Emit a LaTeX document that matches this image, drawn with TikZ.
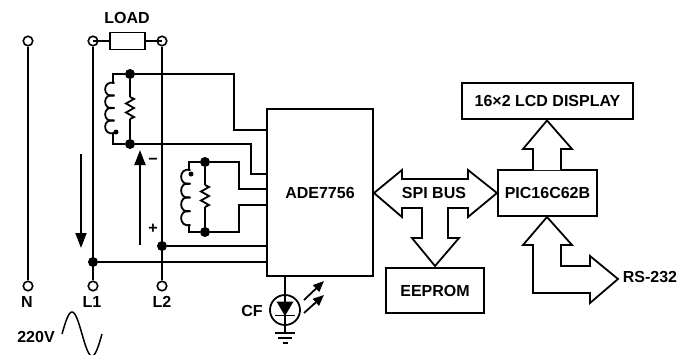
\documentclass[tikz,border=0pt]{standalone}
\usepackage{fontspec}
\setmainfont{Liberation Sans}
\usetikzlibrary{arrows.meta}
\tikzset{wire/.style={draw=black,line width=1.8pt},
         box/.style={draw=black,line width=1.8pt,inner sep=0pt,outer sep=0pt},
         term/.style={circle,draw=black,fill=white,line width=1.6pt,inner sep=0pt,minimum size=9.5pt},
         dot/.style={circle,fill=black,inner sep=0pt,minimum size=10pt},
         label/.style={inner sep=0pt},
         bigarrow/.style={wire,-{Triangle[length=15pt,width=11pt]}},
         ledarrow/.style={wire,-{Triangle[length=11pt,width=9pt]}},
         bus/.style={wire,fill=white,line join=miter},
         shunt/.pic={\draw[wire,line join=miter] (0,0)--(4,2)--(-4,6.5)--(4,11)--(-4,15.5)--(4,20)--(0,22);}}

\begin{document}
\begin{tikzpicture}[x=1pt,y=-1pt,font=\bfseries\fontsize{16}{18}\selectfont]
  \useasboundingbox (0,0) rectangle (689,354);
  % mains terminals and load
  \node[term] (nTop) at (28,41) {};
  \node[term] (lOneTop) at (93,41) {};
  \node[term] (lTwoTop) at (162,41) {};
  \node[term] (nBot) at (28,286) {};
  \node[term] (lOneBot) at (93,286) {};
  \node[term] (lTwoBot) at (162,286) {};
  \node[box,minimum width=35pt,minimum height=17pt] (load) at (127.5,41) {};
  \node[label] (loadText) at (127,18) {LOAD};
  \node[label] (nText) at (27,302) {N};
  \node[label] (lOneText) at (92,302) {L1};
  \node[label] (lTwoText) at (162,302) {L2};
  \node[label] (voltText) at (36,337) {220V};
  \draw[wire] (nTop)--(nBot);
  \draw[wire] (lOneTop)--(lOneBot);
  \draw[wire] (lTwoTop)--(lTwoBot);
  \draw[wire] (lOneTop.center)--(load);
  \draw[wire] (load)--(lTwoTop.center);
  % meter chip
  \node[box,minimum width=106pt,minimum height=167pt] (ade) at (320,192.5) {ADE7756};
  \coordinate (adeA) at (267,130);
  \coordinate (adeB) at (267,174);
  \coordinate (adeC) at (267,189);
  \coordinate (adeD) at (267,205);
  \coordinate (adeE) at (267,246);
  \coordinate (adeF) at (267,262);
  \coordinate (adeG) at (285,276);
  % first sensor
  \node[dot] (dotA) at (130,74) {};
  \node[dot] (dotB) at (130,144) {};
  \coordinate (coilAtop) at (113,83);
  \coordinate (coilAbot) at (113,133);
  \coordinate (turnA) at (234,130);
  \coordinate (turnB) at (251,174);
  \draw[wire] (dotA) -| (coilAtop);
  \draw[wire] (dotB) -| (coilAbot);
  \draw[wire] (dotA) -| (turnA)--(adeA);
  \draw[wire] (dotB) -| (turnB)--(adeB);
  \draw[wire] (dotA)--(130,97);
  \draw[wire] (130,119)--(dotB);
  \pic at (130,97) {shunt};
  \foreach \yc in {83,95.5,108,120.5}
    \draw[wire] (114.5,\yc) .. controls (102,\yc-3.5) and (102,\yc+16) .. (114.5,\yc+12.5);
  \node[circle,fill=black,inner sep=0pt,minimum size=5pt] (coilDotA) at (116,132) {};
  % second sensor
  \node[dot] (dotC) at (205,162) {};
  \node[dot] (dotD) at (205,232) {};
  \coordinate (coilBtop) at (189,170);
  \coordinate (coilBbot) at (189,225);
  \coordinate (turnC) at (239,189);
  \coordinate (turnD) at (239,205);
  \draw[wire] (dotC) -| (coilBtop);
  \draw[wire] (dotD) -| (coilBbot);
  \draw[wire] (dotC) -| (turnC)--(adeC);
  \draw[wire] (dotD) -| (turnD)--(adeD);
  \draw[wire] (dotC)--(205,185);
  \draw[wire] (205,207)--(dotD);
  \pic at (205,185) {shunt};
  \foreach \yc in {170,183.75,197.5,211.25}
    \draw[wire] (190.5,\yc) .. controls (178,\yc-3.5) and (178,\yc+17) .. (190.5,\yc+13.75);
  \node[circle,fill=black,inner sep=0pt,minimum size=5pt] (coilDotB) at (191,174) {};
  % line taps
  \node[dot] (dotE) at (162,246) {};
  \node[dot] (dotF) at (93,262) {};
  \draw[wire] (dotE)--(adeE);
  \draw[wire] (dotF)--(adeF);
  % current and voltage marks
  \coordinate (curTail) at (81,154);
  \coordinate (curTip) at (81,248);
  \coordinate (volTail) at (140,245);
  \coordinate (volTip) at (140,150);
  \draw[bigarrow] (curTail)--(curTip);
  \draw[bigarrow] (volTail)--(volTip);
  \node[label] (minusText) at (153,161) {−};
  \node[label] (plusText) at (153,229) {+};
  \begin{scope}
    \clip (50,300) rectangle (110,354);
    \draw[wire,line width=1.5pt,domain=62:102,samples=60,smooth] plot (\x,{334-22*sin(9*(\x-62))});
  \end{scope}
  % LED output
  \node[circle,draw=black,line width=1.8pt,inner sep=0pt,minimum size=30pt] (led) at (285,310) {};
  \node[label] (cfText) at (252,311) {CF};
  \coordinate (gndTop) at (285,333);
  \draw[wire] (adeG)--(gndTop);
  \fill (276.5,301.5)--(293.5,301.5)--(285,316)--cycle;
  \draw[wire] (275,315.5)--(295,315.5);
  \draw[wire] (275,333)--(295,333);
  \draw[wire] (278,338)--(292,338);
  \draw[wire] (283,343)--(288,343);
  \draw[ledarrow] (304,300)--(324,281);
  \draw[ledarrow] (304,313)--(324,295);
  % digital side
  \node[box,minimum width=171pt,minimum height=36pt] (lcd) at (547.5,101) {16×2 LCD DISPLAY};
  \node[box,minimum width=99pt,minimum height=46pt] (pic) at (547.5,193) {PIC16C62B};
  \node[box,minimum width=98pt,minimum height=45pt] (eeprom) at (435,290.5) {EEPROM};
  \draw[bus] (374,193)--(402,170)--(402,179)--(468,179)--(468,170)--(497,193)--(468,217)--(468,208)--(448,208)
    --(448,238)--(459,238)--(435,266)--(412,238)--(422,238)--(422,208)--(402,208)--(402,217)--cycle;
  \node[label] (spiText) at (434,193) {SPI BUS};
  \draw[bus] (533,170)--(533,149)--(523,149)--(547,120.5)--(572,149)--(561,149)--(561,170);
  \draw[bus] (547,217)--(572,245)--(561,245)--(561,266)--(590,266)--(590,256)--(618,279)--(590,303)--(590,293)
    --(533,293)--(533,245)--(523,245)--cycle;
  \node[label] (rsText) at (650,277) {RS-232};
\end{tikzpicture}
\end{document}
